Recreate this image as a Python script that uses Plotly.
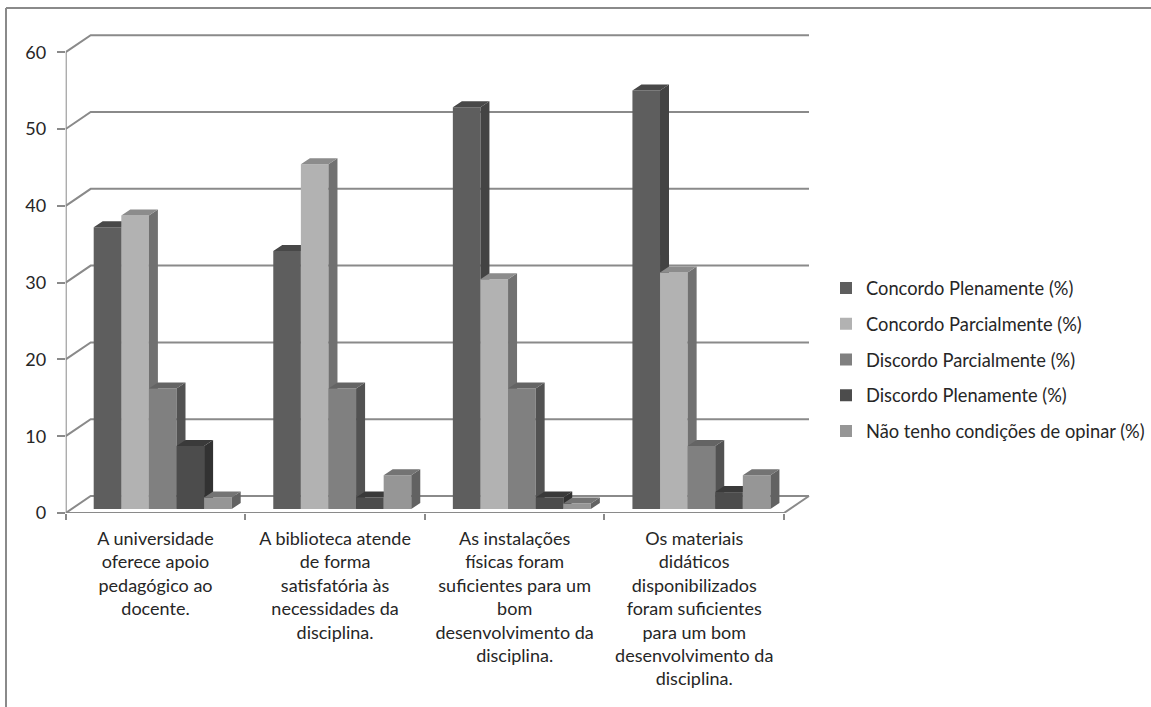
import plotly.graph_objects as go

categories = [
    "A universidade<br>oferece apoio<br>pedagógico ao<br>docente.",
    "A biblioteca atende<br>de forma<br>satisfatória às<br>necessidades da<br>disciplina.",
    "As instalações<br>físicas foram<br>suficientes para um<br>bom<br>desenvolvimento da<br>disciplina.",
    "Os materiais<br>didáticos<br>disponibilizados<br>foram suficientes<br>para um bom<br>desenvolvimento da<br>disciplina.",
]
series_names = [
    "Concordo Plenamente (%)",
    "Concordo Parcialmente (%)",
    "Discordo Parcialmente (%)",
    "Discordo Plenamente (%)",
    "Não tenho condições de opinar (%)",
]
concordo_plenamente = [36.7, 33.6, 52.3, 54.5]
concordo_parcialmente = [38.2, 44.9, 29.9, 30.8]
discordo_parcialmente = [15.7, 15.7, 15.7, 8.2]
discordo_plenamente = [8.2, 1.5, 1.5, 2.2]
nao_tenho_condicoes = [1.5, 4.4, 0.7, 4.4]
series_values = [concordo_plenamente, concordo_parcialmente, discordo_parcialmente,
                 discordo_plenamente, nao_tenho_condicoes]
y_ticks = [0, 10, 20, 30, 40, 50, 60]

front_colors = ["#5e5e5e", "#b2b2b2", "#808080", "#4c4c4c", "#969696"]
top_colors = ["#484848", "#8c8c8c", "#646464", "#3a3a3a", "#747474"]
side_colors = ["#434343", "#717171", "#525252", "#323232", "#626262"]
GRID = "#8a8a8a"
TEXT = "#262626"
FONT = "Lato"

W, H = 1151, 707
X0, X1 = 65.7, 784.0
Y0, Y60 = 513.0, 52.2
UX = (X1 - X0) / 4
UY = (Y0 - Y60) / 60
WALL_DX, WALL_DY = 25 / UX, 17 / UY      # depth of the chart floor
BAR_DX, BAR_DY = 9 / UX, 6 / UY          # depth of a bar
BASE = 4 / UY                            # bars stand slightly inside the floor
GROUP_LEFT = 28 / UX
BAR_W = 27.6 / UX
PAD = 4
X_MAX = 4 + (25 + PAD) / UX
Y_MAX = 60 + (17 + PAD) / UY
X_DOMAIN = [X0 / W, (X1 + 25 + PAD) / W]
Y_DOMAIN = [(H - Y0) / H, (H - Y60 + 17 + PAD) / H]

fig = go.Figure()

# front axis lines, wall gridlines, floor edge
gx = [0, 0, None, 0, 4, None]
gy = [60, 0, None, 0, 0, None]
for v in y_ticks:
    gx += [0, WALL_DX, 4 + WALL_DX, None]
    gy += [v, v + WALL_DY, v + WALL_DY, None]
gx += [4, 4 + WALL_DX, None]
gy += [0, WALL_DY, None]
fig.add_trace(go.Scatter(x=gx, y=gy, mode="lines", line=dict(color=GRID, width=2),
                         cliponaxis=False, showlegend=False, hoverinfo="skip",
                         xaxis="x", yaxis="y"))

for s, (name, vals) in enumerate(zip(series_names, series_values)):
    ya = f"y{s + 2}"
    xs = [i + GROUP_LEFT + (s + 0.5) * BAR_W for i in range(len(categories))]
    fig.add_trace(go.Bar(x=xs, y=vals, base=BASE, width=BAR_W, name=name,
                         marker=dict(color=front_colors[s], line=dict(width=0)),
                         cliponaxis=False, xaxis="x", yaxis=ya,
                         legendgroup=name))
    tx, ty, sx, sy = [], [], [], []
    for c, v in zip(xs, vals):
        l, r, t = c - BAR_W / 2, c + BAR_W / 2, v + BASE
        tx += [l, l + BAR_DX, r + BAR_DX, r, l, None]
        ty += [t, t + BAR_DY, t + BAR_DY, t, t, None]
        sx += [r, r + BAR_DX, r + BAR_DX, r, r, None]
        sy += [BASE, BASE + BAR_DY, t + BAR_DY, t, BASE, None]
    for px, py, col in ((sx, sy, side_colors[s]), (tx, ty, top_colors[s])):
        fig.add_trace(go.Scatter(x=px, y=py, mode="lines", fill="toself", fillcolor=col,
                                 line=dict(width=0, color=col), cliponaxis=False,
                                 showlegend=False, hoverinfo="skip", xaxis="x", yaxis=ya,
                                 legendgroup=name))

font = dict(family=FONT, size=18, color=TEXT)
legend_font = dict(family=FONT, size=18.3, color=TEXT)
layout = dict(
    width=W, height=H, margin=dict(l=0, r=0, t=0, b=0, autoexpand=False),
    paper_bgcolor="white", plot_bgcolor="rgba(0,0,0,0)",
    barmode="overlay", font=font, showlegend=True,
    xaxis=dict(domain=X_DOMAIN, range=[0, X_MAX], showgrid=False, zeroline=False,
               showline=False,
               tickmode="array", tickvals=[i + 0.5 for i in range(4)], ticktext=categories,
               ticks="", tickangle=0, ticklabelstandoff=13, tickfont=font,
               minor=dict(tickmode="array", tickvals=[0, 1, 2, 3, 4], ticks="outside",
                          ticklen=6, tickwidth=2, tickcolor=GRID, showgrid=False)),
    yaxis=dict(domain=Y_DOMAIN, range=[0, Y_MAX], showgrid=False,
               zeroline=False, showline=False,
               tickmode="array", tickvals=y_ticks, ticks="outside", ticklen=8, tickwidth=2,
               tickcolor=GRID, tickfont=font, ticklabelstandoff=7),
    legend=dict(x=826 / W, xanchor="left", y=(H - 269.5) / H, yanchor="top",
                bgcolor="rgba(0,0,0,0)", font=legend_font, tracegroupgap=9,
                traceorder="grouped", itemclick=False, itemdoubleclick=False),
    shapes=[
        dict(type="line", xref="paper", yref="paper", x0=6 / W, x1=6 / W, y0=0, y1=(H - 8) / H,
             line=dict(color=GRID, width=2)),
        dict(type="line", xref="paper", yref="paper", x0=6 / W, x1=1, y0=(H - 8) / H, y1=(H - 8) / H,
             line=dict(color=GRID, width=2)),
    ],
)
for s in range(5):
    layout[f"yaxis{s + 2}"] = dict(domain=Y_DOMAIN, range=[0, Y_MAX],
                                   overlaying="y", visible=False)
fig.update_layout(**layout)

fig.write_html("out.html", config={"displayModeBar": False},
               post_script="document.body.style.margin='0';")
